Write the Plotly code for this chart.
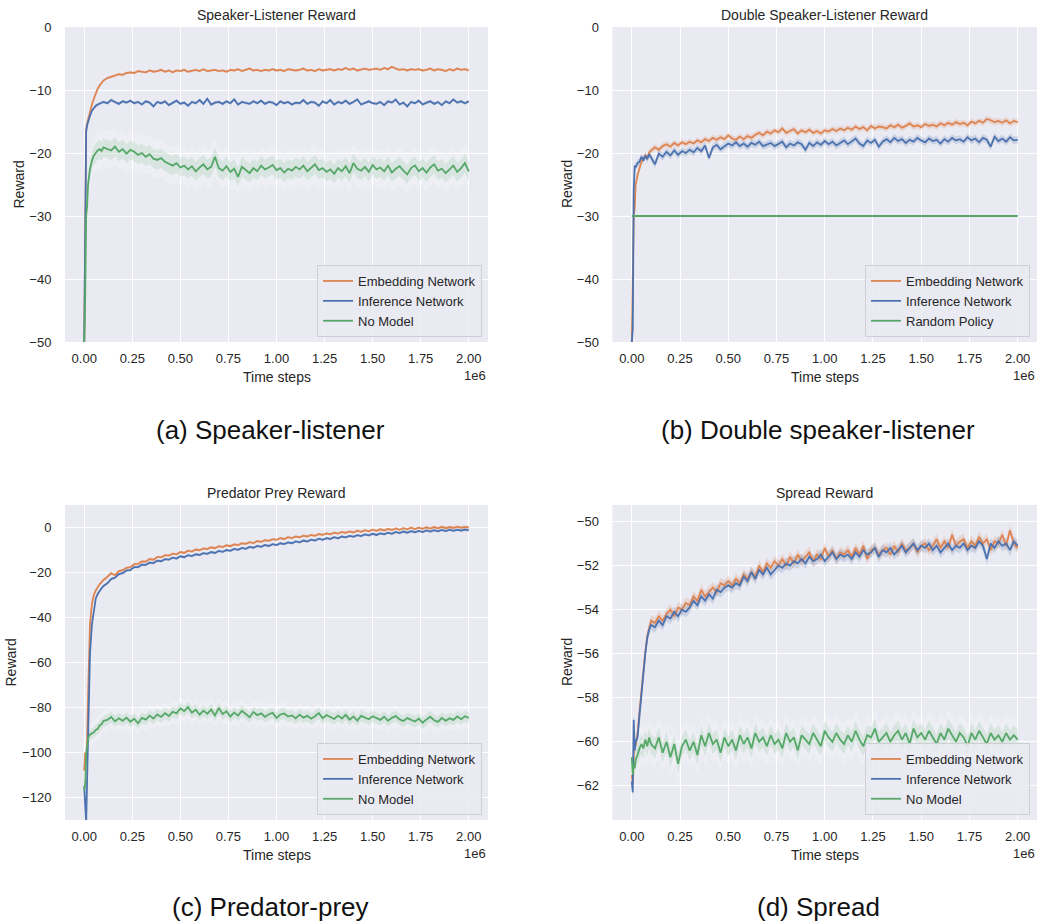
import plotly.graph_objects as go

# ---------------- data (time steps in units of 1e6) ----------------
X = [0.0, 0.005, 0.01, 0.015, 0.02, 0.03, 0.04, 0.05, 0.06, 0.07, 0.08, 0.09, 0.10,
     0.12, 0.14, 0.16, 0.18, 0.20, 0.22, 0.24, 0.26, 0.28, 0.30,
     0.32, 0.34, 0.36, 0.38, 0.40, 0.42, 0.44, 0.46, 0.48, 0.50,
     0.52, 0.54, 0.56, 0.58, 0.60, 0.62, 0.64, 0.66, 0.68, 0.70,
     0.72, 0.74, 0.76, 0.78, 0.80, 0.82, 0.84, 0.86, 0.88, 0.90,
     0.92, 0.94, 0.96, 0.98, 1.00, 1.02, 1.04, 1.06, 1.08, 1.10,
     1.12, 1.14, 1.16, 1.18, 1.20, 1.22, 1.24, 1.26, 1.28, 1.30,
     1.32, 1.34, 1.36, 1.38, 1.40, 1.42, 1.44, 1.46, 1.48, 1.50,
     1.52, 1.54, 1.56, 1.58, 1.60, 1.62, 1.64, 1.66, 1.68, 1.70,
     1.72, 1.74, 1.76, 1.78, 1.80, 1.82, 1.84, 1.86, 1.88, 1.90,
     1.92, 1.94, 1.96, 1.98, 2.00]

# (a) Speaker-listener
SL_EMB = [-50, -31, -16.2, -15.3, -14.6, -13.4, -12.3, -11.4, -10.5, -9.8, -9.3, -8.9, -8.5,
          -8.1, -7.9, -7.8, -7.5, -7.6, -7.3, -7.2, -7.3, -7.0, -7.1,
          -7.2, -6.9, -7.1, -7.0, -6.8, -7.1, -6.9, -7.2, -6.9, -7.0,
          -6.8, -7.1, -6.9, -6.8, -7.0, -6.7, -7.0, -6.9, -6.8, -7.0,
          -6.9, -7.1, -6.8, -6.9, -6.7, -7.0, -6.8, -6.6, -6.9, -6.8,
          -7.0, -6.8, -6.9, -6.7, -6.9, -6.8, -7.0, -6.7, -6.8, -6.9,
          -6.8, -6.6, -6.9, -6.8, -7.0, -6.7, -6.9, -6.8, -6.7, -6.9,
          -6.7, -6.8, -6.5, -6.8, -6.6, -6.9, -6.7, -6.6, -6.8, -6.7,
          -6.6, -6.8, -6.5, -6.7, -6.3, -6.6, -6.8, -6.7, -6.9, -6.7,
          -6.8, -6.7, -6.9, -6.8, -6.6, -6.9, -6.7, -6.8, -7.0, -6.7,
          -6.9, -6.6, -6.8, -6.7, -6.9]
SL_INF = [-50, -36, -16.6, -15.6, -15.0, -14.1, -13.3, -12.8, -12.5, -12.3, -12.2, -12.0, -11.9,
          -12.1, -11.6, -11.9, -12.2, -11.8, -12.0, -11.7, -12.1, -11.9, -12.3,
          -11.8, -12.0, -12.6, -11.9, -12.1, -11.8, -12.4, -12.0, -11.7, -12.2,
          -12.0, -12.5, -11.9, -12.1, -11.6, -12.2, -11.4, -12.3, -12.0, -11.9,
          -12.2, -11.8, -12.1, -11.5, -12.3, -11.9, -12.0, -12.2, -11.8, -12.1,
          -11.7, -12.2, -11.9, -12.0, -12.4, -11.8, -12.1, -11.9, -12.3, -12.0,
          -12.1, -11.6, -12.2, -11.9, -12.0, -12.5, -11.8, -12.1, -11.6, -12.3,
          -11.9, -12.1, -11.7, -12.2, -11.9, -11.5, -12.3, -12.0, -11.8, -12.1,
          -12.2, -11.9, -12.4, -11.8, -12.0, -11.5, -12.3, -12.0, -12.6, -11.9,
          -12.1, -11.7, -12.3, -12.0, -11.8, -12.2, -11.9, -12.4, -11.8, -12.1,
          -11.5, -12.0, -11.8, -12.1, -11.8]
SL_NOM = [-50, -43, -30, -28.5, -25, -22.5, -21.2, -20.4, -20.0, -19.6, -19.4, -19.7, -19.1,
          -19.3, -19.6, -19.0, -19.8, -19.4, -20.1, -19.5, -19.8, -20.3, -20.0,
          -20.6, -20.2, -20.9, -21.1, -20.8, -21.4, -21.7, -22.0, -21.6, -22.3,
          -22.0, -22.6, -22.1, -22.9, -22.3, -21.8, -22.6, -22.2, -20.6, -22.4,
          -22.8, -22.1, -23.0, -22.5, -23.8, -22.2, -22.7, -23.2, -22.4, -22.9,
          -22.0, -22.6, -22.3, -21.9, -22.7, -22.4, -23.1, -22.5, -22.8, -22.2,
          -22.6, -22.0, -22.9, -22.3, -21.8, -22.7, -22.4, -23.0, -22.6, -23.3,
          -22.4, -22.9, -22.1, -23.2, -21.6, -22.5, -22.8, -22.2, -23.0, -21.9,
          -22.6, -22.3, -22.9, -22.0, -23.1, -22.5, -22.1, -22.8, -23.4, -22.4,
          -22.0, -22.9, -22.4, -23.1, -22.3, -21.8, -22.8, -22.5, -23.2, -22.6,
          -22.0, -23.0, -22.4, -21.6, -22.9]

# (b) Double speaker-listener
DSL_EMB = [-50, -40, -30, -28.8, -25, -23.5, -22.2, -21.4, -20.9, -20.4, -20.8, -19.9, -19.6,
           -19.1, -19.5, -18.9, -18.6, -19.0, -18.4, -18.8, -18.3, -18.6, -18.2,
           -18.5, -18.0, -18.3, -17.8, -18.1, -17.6, -17.9, -17.5, -17.8, -17.2,
           -17.7, -17.9, -17.4, -17.8, -17.3, -17.6, -17.1, -16.8, -17.2, -16.6,
           -16.9, -16.4, -16.7, -16.1, -16.8, -16.5, -16.2, -16.9, -16.4, -16.7,
           -16.3, -16.8, -16.5, -16.9, -16.4, -16.6, -16.2, -16.5, -16.1, -16.4,
           -16.0, -16.3, -15.8, -16.2, -15.9, -16.4, -15.7, -16.1, -15.8, -15.9,
           -16.1, -15.6, -15.9, -15.5, -16.0, -15.7, -15.3, -15.8, -15.6, -15.9,
           -15.4, -15.7, -15.5, -15.8, -15.3, -15.6, -15.2, -15.5, -15.1, -15.4,
           -15.2, -15.6, -15.0, -15.3, -14.9, -15.2, -14.6, -14.8, -15.1, -14.9,
           -15.2, -14.8, -15.3, -14.9, -15.1]
DSL_INF = [-50, -48, -26, -22, -22.3, -21.6, -21.4, -20.6, -21.2, -20.4, -21.0, -20.2, -20.7,
           -21.8, -20.1, -20.6, -19.8, -20.4, -19.6, -20.3, -19.7, -20.0, -19.5,
           -19.9, -19.2, -19.7, -18.8, -20.8, -19.1, -18.7, -19.4, -18.9, -18.5,
           -18.8, -18.3, -18.9, -18.5, -19.0, -18.4, -18.7, -18.2, -18.9, -18.6,
           -18.4, -18.9, -18.6, -18.2, -19.1, -18.5, -18.8, -18.3, -18.6, -19.5,
           -18.4, -18.9, -18.3, -18.7, -18.1, -18.6, -18.2, -18.8, -18.4, -18.0,
           -18.6, -18.2, -17.7, -18.5, -18.9, -18.0, -18.4, -17.9, -19.0, -18.2,
           -17.8, -18.3, -17.6, -18.1, -17.8, -18.4, -17.9, -18.2, -17.6, -18.0,
           -18.3, -17.7, -18.1, -17.9, -18.5, -17.8, -18.2, -17.6, -18.0, -17.8,
           -18.2, -17.5, -18.0, -17.7, -18.3, -17.6, -17.9, -19.0, -17.4, -18.1,
           -17.7, -18.2, -17.5, -18.0, -17.9]
DSL_RND_X = [0.0, 2.0]
DSL_RND = [-30, -30]

# (c) Predator-prey
PP_EMB = [-108, -100, -104, -95, -75, -43, -34, -30, -28, -26.5, -25.2, -24.3, -23.3,
          -22.0, -20.3, -21.2, -19.4, -19.0, -17.9, -17.6, -16.3, -16.2, -15.1,
          -15.2, -14.0, -14.3, -13.1, -13.3, -12.3, -12.5, -11.6, -11.9, -10.9,
          -11.3, -10.3, -10.7, -9.8, -10.1, -9.3, -9.6, -8.8, -9.2, -8.3,
          -8.7, -7.9, -8.3, -7.5, -7.8, -7.0, -7.3, -6.5, -6.9, -6.0,
          -6.4, -5.6, -5.9, -5.2, -5.5, -4.7, -5.1, -4.3, -4.7, -4.0,
          -4.4, -3.6, -4.0, -3.3, -3.7, -2.9, -3.3, -2.6, -3.0, -2.3,
          -2.7, -2.0, -2.4, -1.7, -2.2, -1.4, -1.9, -1.2, -1.7, -1.0,
          -1.5, -0.8, -1.3, -0.6, -1.1, -0.4, -1.0, -0.3, -0.8, -0.1,
          -0.7, -0.1, -0.6, 0.1, -0.5, 0.2, -0.4, 0.3, -0.3, 0.2,
          -0.2, 0.4, -0.1, 0.3, 0.0]
PP_INF = [-115, -122, -132, -112, -92, -56, -43, -36, -31.5, -29.5, -28, -27, -26,
          -24.8, -22.9, -22.3, -20.7, -20.3, -19.1, -18.9, -17.6, -17.6, -16.5,
          -16.6, -15.6, -15.8, -14.7, -15.0, -14.1, -14.3, -13.4, -13.8, -12.8,
          -13.2, -12.3, -12.7, -11.9, -12.2, -11.4, -11.7, -10.9, -11.3, -10.4,
          -10.8, -10.0, -10.4, -9.5, -9.9, -9.1, -9.5, -8.6, -9.0, -8.2,
          -8.6, -7.8, -8.2, -7.4, -7.8, -7.0, -7.4, -6.6, -7.0, -6.2,
          -6.6, -5.8, -6.2, -5.4, -5.8, -5.0, -5.5, -4.7, -5.1, -4.3,
          -4.8, -4.0, -4.4, -3.7, -4.1, -3.4, -3.8, -3.1, -3.5, -2.8,
          -3.3, -2.6, -3.0, -2.3, -2.8, -2.0, -2.5, -1.8, -2.3, -1.6,
          -2.1, -1.5, -2.0, -1.3, -1.8, -1.2, -1.7, -1.1, -1.6, -1.0,
          -1.5, -1.0, -1.4, -0.9, -1.3]
PP_NOM = [-117, -114, -101, -96, -93.5, -92, -91.5, -91, -90, -89.5, -88, -87.5, -86,
          -85.5, -84.2, -86.1, -84.8, -85.9, -84.5, -86.3, -85.0, -87.0, -84.6,
          -85.4, -83.6, -84.9, -83.1, -84.2, -82.5, -83.8, -81.9, -82.6, -80.4,
          -81.6, -79.8, -82.3, -81.0, -83.2, -81.4, -82.8, -80.9, -83.5, -80.2,
          -82.9, -81.7, -84.0, -82.2, -83.6, -81.5, -82.8, -84.3, -82.0, -83.4,
          -82.6, -84.2, -83.0, -82.4, -84.6, -83.1, -82.7, -84.0, -83.5, -84.8,
          -83.2, -84.5, -83.7, -85.0, -83.9, -82.5, -84.8, -83.4, -84.2, -85.1,
          -83.6, -84.9, -83.3, -85.4, -84.0, -85.8, -83.7, -84.6, -85.2, -83.9,
          -84.8, -85.5, -84.1, -85.9, -84.6, -83.8, -85.3, -86.0, -84.7, -85.6,
          -86.2, -85.0, -86.8, -85.3, -84.1, -85.7, -86.4, -84.6, -85.9, -84.8,
          -85.5, -84.0, -85.2, -83.9, -84.6]

# (d) Spread
SP_EMB = [-61.5, -61.9, -60.6, -60.0, -60.2, -59.6, -58.6, -57.6, -56.7, -55.9, -55.2, -54.8, -54.5,
          -54.6, -54.3, -54.5, -54.2, -54.0, -54.3, -53.9, -54.0, -53.7, -53.8,
          -53.4, -53.6, -53.1, -53.4, -53.2, -53.0, -53.2, -52.8, -52.9, -52.7,
          -52.9, -52.6, -52.8, -52.4, -52.6, -52.3, -52.5, -52.0, -52.3, -51.9,
          -52.1, -51.8, -52.0, -51.7, -52.0, -51.6, -51.9, -51.5, -51.8, -51.6,
          -51.4, -51.8, -51.5, -51.7, -51.2, -51.6, -51.3, -51.7, -51.4, -51.5,
          -51.3, -51.6, -51.2, -51.5, -51.1, -51.7, -51.3, -51.2, -51.5, -51.3,
          -51.2, -51.5, -51.1, -51.4, -51.0, -51.3, -51.2, -51.0, -51.4, -51.1,
          -51.0, -51.3, -51.1, -50.8, -51.2, -50.9, -51.2, -50.6, -51.1, -50.9,
          -50.8, -51.2, -50.9, -51.1, -50.7, -51.0, -50.8, -51.3, -50.9, -51.0,
          -50.6, -51.1, -50.4, -51.0, -51.2]
SP_INF = [-61.8, -62.3, -59.0, -60.4, -60.0, -59.8, -58.8, -57.8, -56.9, -56.0, -55.3, -54.9, -54.7,
          -54.8, -54.5, -54.7, -54.3, -54.4, -54.1, -54.3, -54.0, -54.1, -53.9,
          -53.6, -53.8, -53.4, -53.6, -53.3, -53.5, -53.1, -53.2, -53.0, -52.9,
          -53.0, -52.8, -52.9, -52.5, -52.7, -52.3, -52.6, -52.2, -52.4, -52.1,
          -52.4, -52.2, -52.0, -52.1, -51.9, -52.0, -51.8, -51.9, -51.7, -51.9,
          -51.6, -51.8, -51.7, -51.5, -51.8, -51.6, -51.4, -51.7, -51.5, -51.6,
          -51.5, -51.7, -51.4, -51.6, -51.3, -51.5, -51.4, -51.2, -51.6, -51.3,
          -51.4, -51.2, -51.5, -51.3, -51.1, -51.4, -51.2, -51.0, -51.3, -51.1,
          -51.2, -51.0, -51.3, -51.1, -51.4, -51.2, -51.0, -51.3, -51.1, -51.2,
          -51.0, -51.3, -51.1, -51.2, -50.9, -51.1, -51.7, -51.0, -51.2, -50.9,
          -51.1, -51.0, -51.3, -50.9, -51.1]
SP_NOM = [-60.7, -61.5, -61.0, -61.2, -60.8, -60.6, -60.3, -60.1, -60.3, -59.9, -60.2, -59.8, -60.1,
          -60.3, -59.8, -60.5, -60.0, -60.7, -60.1, -61.0, -60.2, -59.9, -60.4,
          -60.0, -60.6, -59.7, -60.2, -59.6, -60.1, -59.9, -60.5, -59.8, -60.2,
          -59.9, -60.4, -59.7, -60.1, -59.8, -60.3, -59.6, -60.0, -59.8, -60.2,
          -59.7, -60.1, -59.9, -60.3, -59.6, -60.0, -59.8, -60.4, -59.7, -59.9,
          -60.1, -59.6, -59.9, -60.2, -59.5, -59.8, -60.0, -59.6, -59.9, -60.1,
          -59.7, -60.0, -59.5, -59.9, -60.2, -59.7, -59.8, -59.4, -60.0, -59.8,
          -59.6, -60.0, -59.7, -59.5, -59.9, -59.6, -60.1, -59.4, -59.8, -59.6,
          -59.9, -59.5, -59.8, -60.1, -59.6, -59.9, -59.4, -59.7, -60.0, -59.6,
          -59.8, -60.2, -59.6, -59.9, -59.5, -59.8, -60.1, -59.6, -59.9, -59.7,
          -60.0, -59.6, -59.9, -59.7, -59.9]

# half-width of the shaded spread bands
SPREAD = {"SL_EMB": 0.2, "SL_INF": 0.25, "SL_NOM": 1.5,
          "DSL_EMB": 0.5, "DSL_INF": 0.6,
          "PP_EMB": 0.6, "PP_INF": 0.6, "PP_NOM": 2.5,
          "SP_EMB": 0.25, "SP_INF": 0.25, "SP_NOM": 0.45}

X_TICKS = [0.0, 0.25, 0.5, 0.75, 1.0, 1.25, 1.5, 1.75, 2.0]
X_TICK_TEXT = ["0.00", "0.25", "0.50", "0.75", "1.00", "1.25", "1.50", "1.75", "2.00"]

TITLES = ["Speaker-Listener Reward", "Double Speaker-Listener Reward",
          "Predator Prey Reward", "Spread Reward"]
CAPTIONS = ["(a) Speaker-listener", "(b) Double speaker-listener",
            "(c) Predator-prey", "(d) Spread"]
LEGEND_NAMES = ["Embedding Network", "Inference Network", "No Model", "Random Policy"]

for name, arr in [("SL_EMB", SL_EMB), ("SL_INF", SL_INF), ("SL_NOM", SL_NOM),
                  ("DSL_EMB", DSL_EMB), ("DSL_INF", DSL_INF), ("PP_EMB", PP_EMB),
                  ("PP_INF", PP_INF), ("PP_NOM", PP_NOM), ("SP_EMB", SP_EMB),
                  ("SP_INF", SP_INF), ("SP_NOM", SP_NOM)]:
    assert len(arr) == len(X), (name, len(arr), len(X))

# ---------------- styling ----------------
W, H = 1042, 924
ORANGE = (221, 132, 82)
BLUE = (76, 114, 176)
GREEN = (85, 168, 104)
TXT = "#262626"
FONT = "Liberation Sans, Arial, sans-serif"


def rgb(c, a=1.0):
    return f"rgba({c[0]},{c[1]},{c[2]},{a})"


def fx(p):
    return p / W


def fy(p):
    return 1 - p / H


def ylabel(v):
    return ("\u2212" + str(abs(v))) if v < 0 else str(v)


# pixel boxes of the four plot areas: (left, right, top, bottom)
BOXES = [(65, 488, 27, 342), (612.5, 1037, 27, 342),
         (65, 488, 505, 820), (612.5, 1037, 505, 820)]
YRANGES = [[-50, 0], [-50, 0], [-130, 10], [-63.55, -49.25]]
YTICKS = [[0, -10, -20, -30, -40, -50], [0, -10, -20, -30, -40, -50],
          [0, -20, -40, -60, -80, -100, -120], [-50, -52, -54, -56, -58, -60, -62]]
LEGEND_BOXES = [(482, 337), (1030, 337), (482, 815), (1030, 815)]

panels = [
    [(LEGEND_NAMES[0], X, SL_EMB, ORANGE, "SL_EMB"),
     (LEGEND_NAMES[1], X, SL_INF, BLUE, "SL_INF"),
     (LEGEND_NAMES[2], X, SL_NOM, GREEN, "SL_NOM")],
    [(LEGEND_NAMES[0], X, DSL_EMB, ORANGE, "DSL_EMB"),
     (LEGEND_NAMES[1], X, DSL_INF, BLUE, "DSL_INF"),
     (LEGEND_NAMES[3], DSL_RND_X, DSL_RND, GREEN, None)],
    [(LEGEND_NAMES[0], X, PP_EMB, ORANGE, "PP_EMB"),
     (LEGEND_NAMES[1], X, PP_INF, BLUE, "PP_INF"),
     (LEGEND_NAMES[2], X, PP_NOM, GREEN, "PP_NOM")],
    [(LEGEND_NAMES[0], X, SP_EMB, ORANGE, "SP_EMB"),
     (LEGEND_NAMES[1], X, SP_INF, BLUE, "SP_INF"),
     (LEGEND_NAMES[2], X, SP_NOM, GREEN, "SP_NOM")],
]

fig = go.Figure()
annotations = []
layout = {}

for i, series in enumerate(panels):
    k = "" if i == 0 else str(i + 1)
    xa, ya = "x" + k, "y" + k
    leg = "legend" + k
    l, r, t, b = BOXES[i]

    # bands first
    for name, xs, ys, col, key in series:
        if key is None:
            continue
        s = SPREAD[key]
        up = [v + s for v in ys]
        lo = [v - s for v in ys]
        fig.add_trace(go.Scatter(x=xs + xs[::-1], y=up + lo[::-1], fill="toself",
                                 fillcolor=rgb(col, 0.2), line=dict(width=0),
                                 hoverinfo="skip", showlegend=False,
                                 xaxis=xa, yaxis=ya))
        if key.endswith("NOM"):
            up2 = [v + 2 * s for v in ys]
            lo2 = [v - 2 * s for v in ys]
            fig.add_trace(go.Scatter(x=xs + xs[::-1], y=up2 + lo2[::-1], fill="toself",
                                     fillcolor="rgba(255,255,255,0.22)", line=dict(width=0),
                                     hoverinfo="skip", showlegend=False,
                                     xaxis=xa, yaxis=ya))
    for name, xs, ys, col, key in series:
        fig.add_trace(go.Scatter(x=xs, y=ys, mode="lines", name=name,
                                 line=dict(color=rgb(col), width=1.8),
                                 xaxis=xa, yaxis=ya, legend=leg))

    layout["xaxis" + k] = dict(
        domain=[fx(l), fx(r)], range=[-0.1, 2.1], anchor=ya, automargin=False,
        tickvals=X_TICKS, ticktext=X_TICK_TEXT,
        showgrid=True, gridcolor="white", gridwidth=1.3, zeroline=False, showline=False,
        ticks="outside", ticklen=4, tickcolor="rgba(0,0,0,0)",
        tickfont=dict(family=FONT, size=13, color=TXT))
    layout["yaxis" + k] = dict(
        domain=[fy(b), fy(t)], range=YRANGES[i], anchor=xa, automargin=False,
        tickvals=YTICKS[i], ticktext=[ylabel(v) for v in YTICKS[i]],
        showgrid=True, gridcolor="white", gridwidth=1.3, zeroline=False, showline=False,
        ticks="outside", ticklen=10, tickcolor="rgba(0,0,0,0)",
        tickfont=dict(family=FONT, size=13, color=TXT))

    lx, ly = LEGEND_BOXES[i]
    layout[leg] = dict(x=fx(lx), y=fy(ly), xanchor="right", yanchor="bottom",
                       bgcolor="rgba(234,234,242,0.85)", bordercolor="#cfcfd6", borderwidth=1,
                       font=dict(family=FONT, size=13, color=TXT),
                       tracegroupgap=0, itemwidth=30)

    cx = (l + r) / 2
    annotations.append(dict(text=TITLES[i], x=fx(cx), y=fy(t - 12), xref="paper", yref="paper",
                            showarrow=False, xanchor="center", yanchor="middle",
                            font=dict(family=FONT, size=14, color=TXT)))
    annotations.append(dict(text="Time steps", x=fx(cx), y=fy(b + 35), xref="paper", yref="paper",
                            showarrow=False, xanchor="center", yanchor="middle",
                            font=dict(family=FONT, size=14, color=TXT)))
    annotations.append(dict(text="1e6", x=fx(r), y=fy(b + 33), xref="paper", yref="paper",
                            showarrow=False, xanchor="right", yanchor="middle",
                            font=dict(family=FONT, size=13, color=TXT)))
    ylab_x = [18, 566.5, 10, 566.5][i]
    annotations.append(dict(text="Reward", x=fx(ylab_x), y=fy((t + b) / 2), xref="paper",
                            yref="paper", showarrow=False, xanchor="center", yanchor="middle",
                            textangle=-90, font=dict(family=FONT, size=14, color=TXT)))
    cap_y = [430, 430, 907, 907][i]
    cap_x = [270, 818, 270, 818][i]
    annotations.append(dict(text=CAPTIONS[i], x=fx(cap_x), y=fy(cap_y), xref="paper",
                            yref="paper", showarrow=False, xanchor="center", yanchor="middle",
                            font=dict(family=FONT, size=26, color="#111111")))

fig.update_layout(width=W, height=H, autosize=False,
                  margin=dict(l=0, r=0, t=0, b=0, pad=0),
                  paper_bgcolor="white", plot_bgcolor="#EAEAF2",
                  annotations=annotations, **layout)

fig.write_html("out.html", config={"displayModeBar": False},
               post_script="document.body.style.margin='0';"
                           "document.body.style.overflow='hidden';")
